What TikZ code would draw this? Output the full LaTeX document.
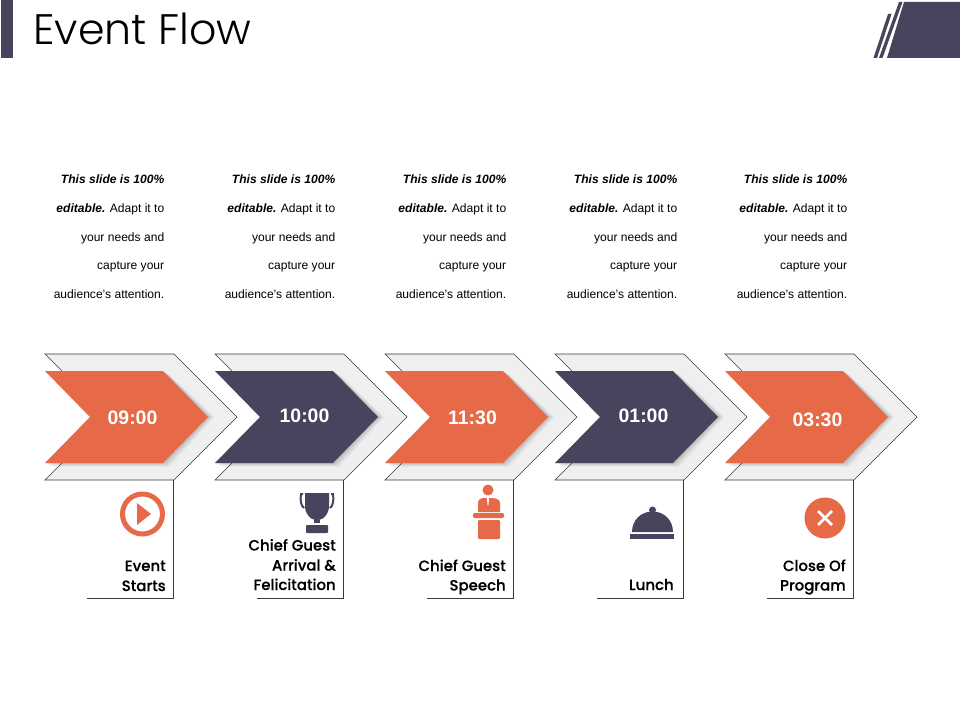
\documentclass[tikz,border=0pt]{standalone}
\usepackage{fontspec}
\setmainfont{Liberation Sans}
\newfontfamily\titlefont{Poppins Light}
\newfontfamily\labfont[FakeBold=0.3]{Poppins Medium}
\definecolor{orng}{HTML}{E66A47}
\definecolor{dark}{HTML}{47455E}
\definecolor{pale}{HTML}{EFEFEF}
\definecolor{lineC}{HTML}{3A3A3A}
\tikzset{
  x=0.75pt,y=-0.75pt,
  timetext/.style={font=\bfseries\fontsize{14.6}{16}\selectfont,text=white,anchor=center,inner sep=0},
  desc/.style={font=\fontsize{9.05}{10}\selectfont,text=black,anchor=base east,inner sep=0},
  lab/.style={font=\labfont\fontsize{11.2}{13}\selectfont,text=black,anchor=base east,inner sep=0},
  outerline/.style={draw=lineC,line width=0.45pt},
}
\newcommand{\chevron}[2]{%
  % #1 = left x, #2 = colour
  \begin{scope}[shift={(#1,0)}]
    \fill[pale] (0,354) -- (129,354) -- (192,417) -- (129,480) -- (0,480) -- (63,417) -- cycle;
    \draw[outerline] (17,371) -- (0,354) -- (129,354) -- (192,417) -- (129,480) -- (0,480) -- (17,463);
    \draw[lineC,line width=0.65pt] (128.7,480) -- (128.7,598) -- (42,598);
    \foreach \o/\a in {7/0.015,6/0.02,5/0.03,4/0.03,3/0.04,2/0.04,1/0.04}{
      \fill[black,opacity=\a] (\o,371+\o*0.6) -- (118+\o,371+\o*0.6) -- (163+\o,417) -- (118+\o,463+\o*0.6) -- (\o,463+\o*0.6) -- (45,417) -- cycle;
    }
    \fill[#2] (0,371) -- (118,371) -- (163,417) -- (118,463) -- (0,463) -- (45,417) -- cycle;
  \end{scope}}
\newcommand{\blurb}[2]{%
  % #1 = right x, #2 = name prefix
  \node[desc] (#2a) at (#1,184) {\bfseries\itshape This slide is 100\%};
  \node[desc] (#2b) at (#1,213) {{\bfseries\itshape editable.} Adapt it to};
  \node[desc] (#2c) at (#1,242) {your needs and};
  \node[desc] (#2d) at (#1,270) {capture your};
  \node[desc] (#2e) at (#1,299) {audience's attention.};}
\begin{document}
\begin{tikzpicture}
\useasboundingbox (0,0) rectangle (960,720);
\fill[white] (0,0) rectangle (960,720);
% header
\fill[dark] (1,0) rectangle (13,58);
\node[font=\titlefont\fontsize{32}{36}\selectfont,anchor=base west,inner sep=0,text=black] (title) at (33,45) {Event Flow};
\fill[dark] (904,2) -- (960,2) -- (960,58) -- (887,58) -- cycle;
\fill[dark] (899,2) -- (902.5,2) -- (882.5,58) -- (879,58) -- cycle;
\fill[dark] (888,14) -- (891.5,14) -- (877,58) -- (873.5,58) -- cycle;
% chevrons
\chevron{45}{orng}
\chevron{215}{dark}
\chevron{385}{orng}
\chevron{555}{dark}
\chevron{725}{orng}
% description text
\blurb{164.5}{p}
\blurb{335.5}{q}
\blurb{506.5}{r}
\blurb{677.5}{s}
\blurb{847.5}{t}
% times
\node[timetext] (t1) at (132.5,418) {09:00};
\node[timetext] (t2) at (304.5,416) {10:00};
\node[timetext] (t3) at (472.5,418) {11:30};
\node[timetext] (t4) at (643.5,416) {01:00};
\node[timetext] (t5) at (817.5,420) {03:30};
% labels
\node[lab] (l1a) at (166,571) {Event};
\node[lab] (l1b) at (166,591) {Starts};
\node[lab] (l2a) at (336,550.5) {Chief Guest};
\node[lab] (l2b) at (336,570.5) {Arrival \&};
\node[lab] (l2c) at (336,590) {Felicitation};
\node[lab] (l3a) at (506,571) {Chief Guest};
\node[lab] (l3b) at (506,590.5) {Speech};
\node[lab] (l4a) at (674,590) {Lunch};
\node[lab] (l5a) at (846,571) {Close Of};
\node[lab] (l5b) at (846,590.5) {Program};
% play icon
\draw[orng,line width=3.75pt] (142.5,514) circle[radius=20];
\fill[orng] (137,503) -- (151,514) -- (137,525) -- cycle;
% trophy icon
\fill[dark] (305,493) -- (329,493) -- (329,506) .. controls (329,514) and (324,519) .. (319,520) -- (315,520) .. controls (310,519) and (305,514) .. (305,506) -- cycle;
\fill[dark] (314,520) rectangle (320,523);
\fill[dark,rounded corners=0.6pt] (306,525) -- (328,525) -- (328,533) -- (306,533) -- cycle;
\draw[dark,line width=1.5pt] (303,494) -- (301,494) .. controls (300,500) and (301,506) .. (304,508);
\draw[dark,line width=1.5pt] (331,494) -- (333,494) .. controls (334,500) and (333,506) .. (330,508);
% speaker icon
\fill[orng] (488,490) circle[radius=5.5];
\fill[orng] (478,512) -- (478,503) .. controls (478,499) and (481,498) .. (485,498) -- (491,498) .. controls (495,498) and (500,499) .. (500,503) -- (500,512) -- cycle;
\fill[white] (487,498) -- (489,498) -- (488.6,504) -- (488,506) -- (487.4,504) -- cycle;
\fill[orng,rounded corners=1pt] (473,513) rectangle (504,518);
\fill[orng,rounded corners=0.8pt] (478,520) rectangle (500,539);
% cloche icon
\fill[dark] (652.5,510) circle[radius=3.5];
\fill[dark] (632,532) .. controls (632,520) and (641,511.5) .. (652.5,511.5) .. controls (664,511.5) and (673,520) .. (673,532) -- cycle;
\fill[dark] (630,534) rectangle (674,539);
% close icon
\fill[orng] (825,518) circle[radius=20.5];
\draw[white,line width=1.9pt] (818,511) -- (832,525) (832,511) -- (818,525);
\end{tikzpicture}
\end{document}
